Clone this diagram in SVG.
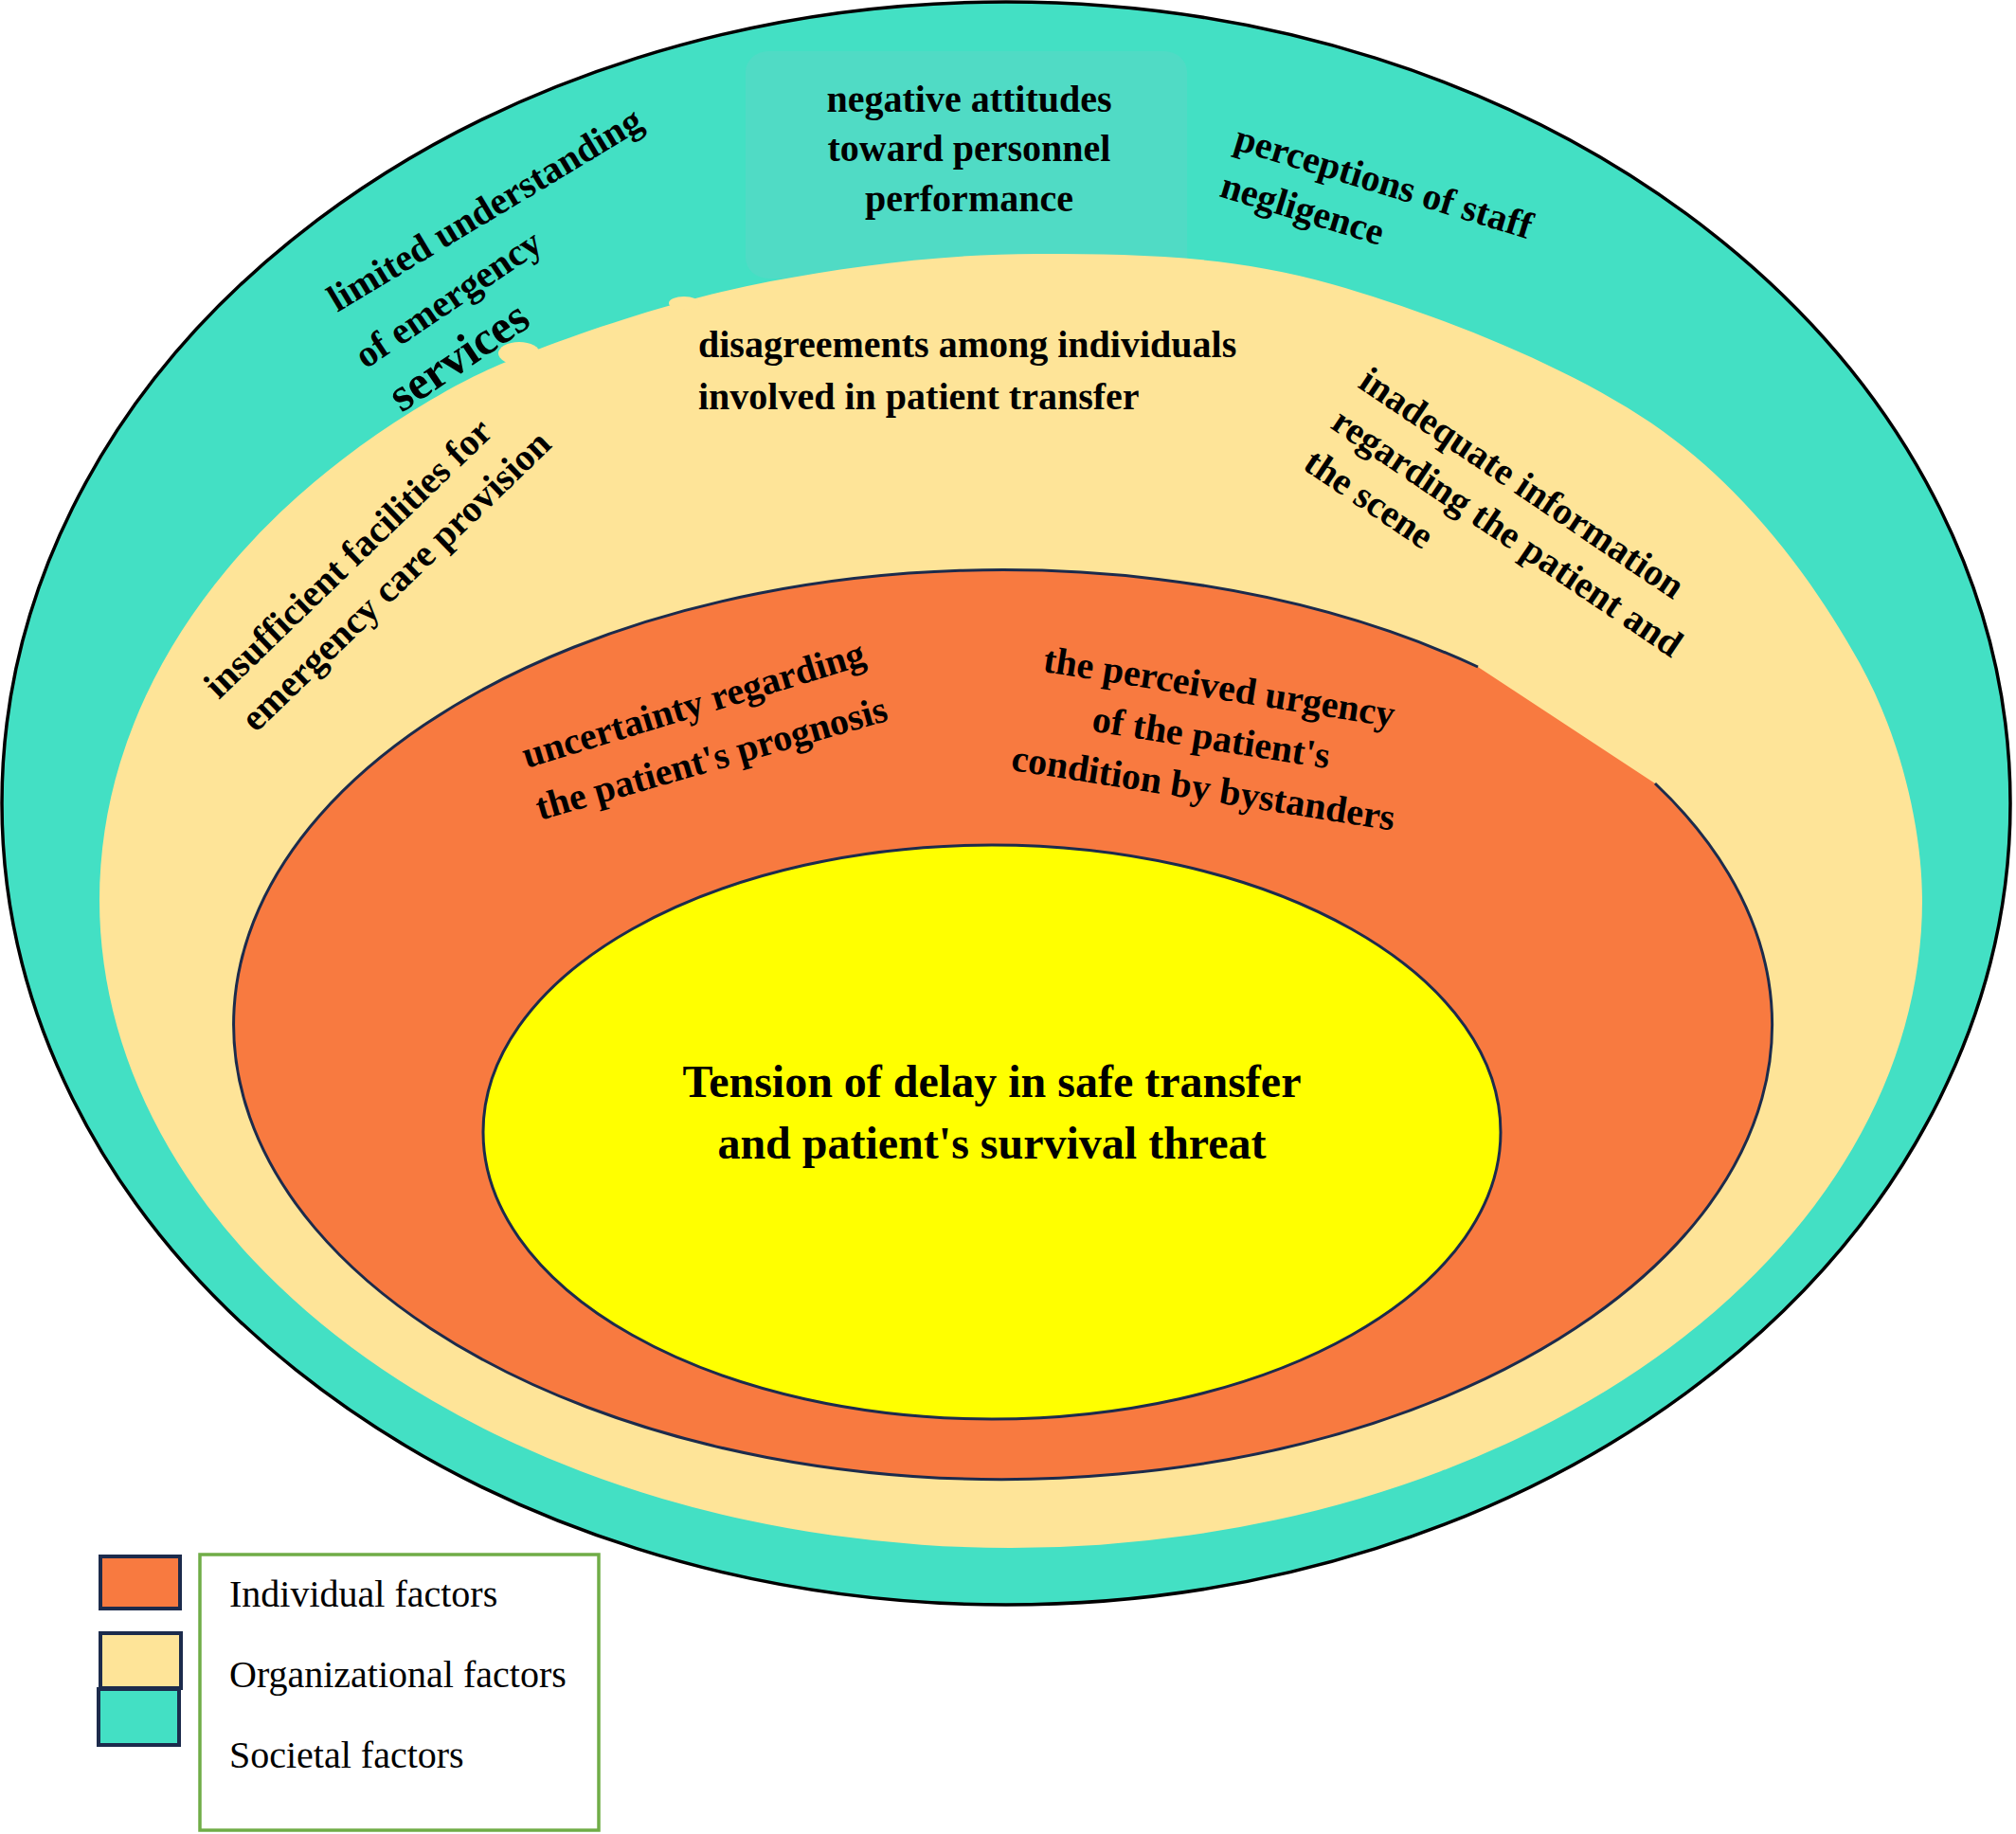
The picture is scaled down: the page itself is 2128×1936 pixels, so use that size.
<svg xmlns="http://www.w3.org/2000/svg" width="2128" height="1936" viewBox="0 0 2128 1936">
  <style>
    .lbl { font-family: "Liberation Serif", "Times New Roman", serif; font-weight: bold; font-size: 40px; fill: #000; }
    .big { font-size: 48px; }
    .leg { font-family: "Liberation Serif", "Times New Roman", serif; font-size: 40px; fill: #000; }
    .teal { fill: #43E0C4; }
    .beige { fill: #FEE498; }
    .orange { fill: #F87A40; }
    .yellow { fill: #FFFF00; }
    .sw { stroke: #1C2B4C; stroke-width: 4; }
  </style>
  <rect x="0" y="0" width="2128" height="1936" fill="#FFFFFF"/>

  <g id="societal">
    <ellipse cx="1062" cy="848" rx="1060" ry="846" class="teal" stroke="#000" stroke-width="3.5"/>
    <rect x="787" y="54" width="466" height="240" rx="24" ry="22" fill="#50DBC5"/>
  </g>

  <g id="organizational">
    <path class="beige" d="M105,950 A962,684 0 0 1 436,433.6 C476,409 507.2,391.2 570,368 C632.8,344.2 724.7,313.7 813,297 C901.3,280.3 1001.2,267.5 1100,268 C1198.8,268.5 1296.8,268.8 1406,300 C1515.2,331.2 1662.2,388.3 1755,455 C1847.8,521.7 1917.3,617.5 1963,700 C2008.7,782.5 2029,880 2029,950 A962,684 0 0 1 105,950 Z"/>
    <ellipse cx="548" cy="373" rx="22" ry="12" class="beige"/>
    <ellipse cx="722" cy="320" rx="16" ry="7" class="beige"/>
  </g>

  <g id="individual">
    <path class="orange" d="M1747,827 A812,480 0 1 1 1560,704 Z"/>
    <path d="M1747,827 A812,480 0 1 1 1560,704" fill="none" stroke="#1C2B4C" stroke-width="3"/>
  </g>

  <g id="core">
    <ellipse cx="1047" cy="1195" rx="537" ry="303" class="yellow" stroke="#1C2B4C" stroke-width="3"/>
    <text class="lbl big" text-anchor="middle" x="1047" y="1158">Tension of delay in safe transfer</text>
    <text class="lbl big" text-anchor="middle" x="1047" y="1223">and patient's survival threat</text>
  </g>

  <g id="label-negative-attitudes">
    <text class="lbl" text-anchor="middle" x="1023" y="118">negative attitudes</text>
    <text class="lbl" text-anchor="middle" x="1023" y="170">toward personnel</text>
    <text class="lbl" text-anchor="middle" x="1023" y="223">performance</text>
  </g>

  <g id="label-perceptions">
    <text class="lbl" transform="translate(1301,157) rotate(17)">perceptions of staff</text>
    <text class="lbl" transform="translate(1286,207) rotate(17)">negligence</text>
  </g>

  <g id="label-limited-understanding">
    <text class="lbl" transform="translate(356,330) rotate(-31)">limited understanding</text>
    <text class="lbl" transform="translate(386,390) rotate(-34)">of emergency</text>
    <text class="lbl" style="font-size:50px" transform="translate(424,436) rotate(-34)">services</text>
  </g>

  <g id="label-disagreements">
    <text class="lbl" x="737" y="377">disagreements among individuals</text>
    <text class="lbl" x="737" y="432">involved in patient transfer</text>
  </g>

  <g id="label-insufficient-facilities">
    <text class="lbl" transform="translate(231,739) rotate(-44)">insufficient facilities for</text>
    <text class="lbl" transform="translate(270,774) rotate(-44)">emergency care provision</text>
  </g>

  <g id="label-inadequate-information">
    <g transform="translate(1432,408) rotate(34)">
      <text class="lbl" x="0" y="0">inadequate information</text>
      <text class="lbl" x="0" y="52">regarding the patient and</text>
      <text class="lbl" x="0" y="104">the scene</text>
    </g>
  </g>

  <g id="label-uncertainty">
    <text class="lbl" transform="translate(556,811) rotate(-17)">uncertainty regarding</text>
    <text class="lbl" transform="translate(570,866) rotate(-16)">the patient's prognosis</text>
  </g>

  <g id="label-perceived-urgency">
    <g transform="translate(1285,738) rotate(9)">
      <text class="lbl" text-anchor="middle" x="0" y="0">the perceived urgency</text>
      <text class="lbl" text-anchor="middle" x="0" y="54">of the patient's</text>
      <text class="lbl" text-anchor="middle" x="0" y="108">condition by bystanders</text>
    </g>
  </g>

  <g id="legend">
    <rect x="106" y="1643" width="84" height="55" class="orange sw"/>
    <rect x="106" y="1724" width="85" height="58" class="beige sw"/>
    <rect x="104" y="1783" width="85" height="59" class="teal sw"/>
    <rect x="211" y="1641" width="421" height="291" fill="none" stroke="#70AD47" stroke-width="3.5"/>
    <text class="leg" x="242" y="1696">Individual factors</text>
    <text class="leg" x="242" y="1781">Organizational factors</text>
    <text class="leg" x="242" y="1866">Societal factors</text>
  </g>
</svg>
